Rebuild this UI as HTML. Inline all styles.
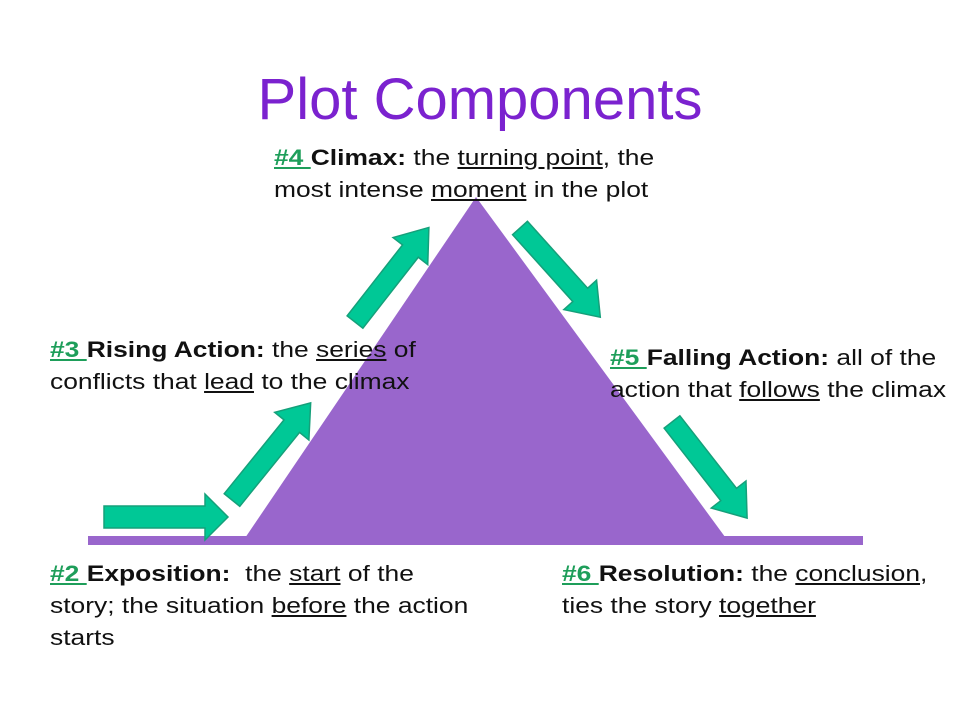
<!DOCTYPE html>
<html><head><style>
body{margin:0;width:960px;height:720px;background:#fff;position:relative;overflow:hidden;font-family:"Liberation Sans",Arial,sans-serif;}
.t{position:absolute;font-size:22px;line-height:32px;color:#111;white-space:nowrap;transform:scaleX(1.2);transform-origin:0 0;}
.g{color:#1e9e5a;text-decoration:underline;font-weight:bold;}
u{text-decoration:underline;}
h1{position:absolute;left:0;width:960px;top:66px;margin:0;text-align:center;font-weight:normal;font-size:58px;color:#7b22cf;}
</style></head><body>
<svg width="960" height="720" style="position:absolute;left:0;top:0">
<rect x="88" y="536" width="775" height="9" fill="#9966cc"/>
<polygon points="476,197 243,541 728,541" fill="#9966cc"/>
<g fill="#00c896" stroke="#15a07a" stroke-width="1.5">
<polygon points="104,506 205,506 205,494 228,517 205,540 205,528 104,528"/>
<g transform="translate(232,500) rotate(-51)"><polygon points="0,-10 95,-10 95,-22 125,0 95,22 95,10 0,10"/></g>
<g transform="translate(355,322) rotate(-52)"><polygon points="0,-10 90,-10 90,-22 120,0 90,22 90,10 0,10"/></g>
<g transform="translate(520,228) rotate(48)"><polygon points="0,-10 90,-10 90,-22 120,0 90,22 90,10 0,10"/></g>
<g transform="translate(672,422) rotate(52)"><polygon points="0,-10 92,-10 92,-22 122,0 92,22 92,10 0,10"/></g>
</g>
</svg>
<h1>Plot Components</h1>
<div class="t" style="left:274px;top:142px"><span class="g">#4 </span><b>Climax:</b> the <u>turning point</u>, the<br>most intense <u>moment</u> in the plot</div>
<div class="t" style="left:50px;top:334px"><span class="g">#3 </span><b>Rising Action:</b> the <u>series</u> of<br>conflicts that <u>lead</u> to the climax</div>
<div class="t" style="left:610px;top:342px"><span class="g">#5 </span><b>Falling Action:</b> all of the<br>action that <u>follows</u> the climax</div>
<div class="t" style="left:50px;top:558px"><span class="g">#2 </span><b>Exposition:</b>&nbsp; the <u>start</u> of the<br>story; the situation <u>before</u> the action<br>starts</div>
<div class="t" style="left:562px;top:558px"><span class="g">#6 </span><b>Resolution:</b> the <u>conclusion</u>,<br>ties the story <u>together</u></div>
</body></html>
